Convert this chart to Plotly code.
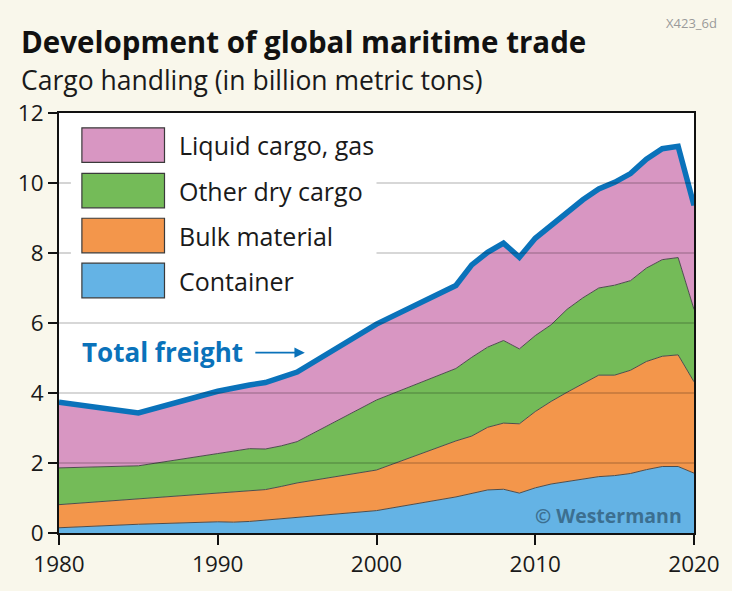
import plotly.graph_objects as go

# ---------------- data (billion metric tons) ----------------
years = [1980, 1985, 1990, 1991, 1992, 1993, 1994, 1995, 2000, 2005, 2006, 2007,
         2008, 2009, 2010, 2011, 2012, 2013, 2014, 2015, 2016, 2017, 2018, 2019, 2020]
container = [0.15, 0.25, 0.32, 0.31, 0.33, 0.37, 0.41, 0.46, 0.64, 1.03, 1.12, 1.23,
             1.25, 1.14, 1.29, 1.40, 1.47, 1.55, 1.61, 1.64, 1.70, 1.81, 1.90, 1.90, 1.71]
bulk = [0.66, 0.73, 0.82, 0.88, 0.89, 0.87, 0.92, 0.97, 1.16, 1.60, 1.65, 1.79,
        1.89, 1.98, 2.18, 2.36, 2.55, 2.72, 2.90, 2.87, 2.95, 3.09, 3.15, 3.19, 2.61]
other_dry = [1.05, 0.94, 1.13, 1.14, 1.19, 1.16, 1.16, 1.18, 2.00, 2.07, 2.25, 2.29,
             2.36, 2.14, 2.17, 2.19, 2.37, 2.45, 2.49, 2.57, 2.56, 2.67, 2.76, 2.78, 2.07]
liquid = [1.88, 1.51, 1.78, 1.82, 1.82, 1.90, 1.96, 1.99, 2.17, 2.37, 2.64, 2.71,
          2.78, 2.62, 2.78, 2.83, 2.79, 2.80, 2.83, 2.94, 3.06, 3.11, 3.17, 3.18, 2.97]
total = [c + b + o + l for c, b, o, l in zip(container, bulk, other_dry, liquid)]

series_names = ["Container", "Bulk material", "Other dry cargo", "Liquid cargo, gas"]
series_values = [container, bulk, other_dry, liquid]
series_colors = ["#64b3e5", "#f3964b", "#74bb58", "#d896c2"]

x_ticks = [1980, 1990, 2000, 2010, 2020]
y_ticks = [0, 2, 4, 6, 8, 10, 12]

# ---------------- layout geometry (pixels) ----------------
W, H = 732, 591
L, R, T, B = 59, 697, 113, 538


def px(x):
    return (x - L) / (R - L)


def py(y):
    return (B - y) / (B - T)


FONT = "Open Sans"
BLUE = "#0a72ba"

fig = go.Figure()
for name, vals, col in zip(series_names, series_values, series_colors):
    fig.add_trace(go.Scatter(
        x=years, y=vals, name=name, mode="lines", stackgroup="one",
        fillcolor=col, line=dict(color="#4d4d4d", width=1), hoverinfo="x+y+name"))

fig.add_trace(go.Scatter(
    x=years, y=total, name="Total freight", mode="lines",
    line=dict(color=BLUE, width=5.5, shape="linear"), showlegend=False))

shapes = []
# gridlines drawn above the fills
for yv in [2, 4, 6]:
    shapes.append(dict(type="line", xref="x", yref="y", x0=1980, x1=2020, y0=yv, y1=yv,
                       line=dict(color="rgba(0,0,0,0.21)", width=1.6), layer="above"))
for yv in [8, 10]:
    shapes.append(dict(type="line", xref="x", yref="y", x0=2000, x1=2020, y0=yv, y1=yv,
                       line=dict(color="rgba(0,0,0,0.21)", width=1.6), layer="above"))
    shapes.append(dict(type="line", xref="x", yref="y", x0=1980, x1=1980.75, y0=yv, y1=yv,
                       line=dict(color="rgba(0,0,0,0.21)", width=1.6), layer="above"))

# legend boxes
legend_rows = [145.5, 191.5, 237, 282.5]
legend_order = [3, 2, 1, 0]
annotations = []
for yc, idx in zip(legend_rows, legend_order):
    shapes.append(dict(type="rect", xref="paper", yref="paper",
                       x0=px(82), x1=px(165), y0=py(yc + 17.5), y1=py(yc - 17.5),
                       fillcolor=series_colors[idx], line=dict(color="#3a3a3a", width=1.2),
                       layer="above"))
    annotations.append(dict(xref="paper", yref="paper", x=px(178), y=py(yc),
                            text=series_names[idx], showarrow=False, xanchor="left",
                            yanchor="middle", font=dict(family=FONT, size=25, color="#1a1a1a")))

# Total freight label + arrow
annotations.append(dict(xref="paper", yref="paper", x=px(80), y=py(355),
                        text="<b>Total freight</b>", showarrow=False, xanchor="left",
                        yanchor="middle", font=dict(family=FONT, size=26, color=BLUE)))
annotations.append(dict(xref="paper", yref="paper", x=px(306), y=py(355.5),
                        ax=-51, ay=0, text="", showarrow=True, arrowhead=2,
                        arrowsize=1.3, arrowwidth=1.6, arrowcolor=BLUE))

# copyright
annotations.append(dict(xref="paper", yref="paper", x=px(687), y=py(520),
                        text="<b>© Westermann</b>", showarrow=False, xanchor="right",
                        yanchor="middle", font=dict(family=FONT, size=19.5, color="#3c6f90")))

# titles
annotations.append(dict(xref="paper", yref="paper", x=px(19), y=py(41),
                        text="<b>Development of global maritime trade</b>", showarrow=False,
                        xanchor="left", yanchor="middle",
                        font=dict(family=FONT, size=29.5, color="#111111")))
annotations.append(dict(xref="paper", yref="paper", x=px(19), y=py(80),
                        text="Cargo handling (in billion metric tons)", showarrow=False,
                        xanchor="left", yanchor="middle",
                        font=dict(family=FONT, size=26.5, color="#1a1a1a")))
annotations.append(dict(xref="paper", yref="paper", x=px(722), y=py(22),
                        text="X423_6d", showarrow=False,
                        xanchor="right", yanchor="middle",
                        font=dict(family=FONT, size=13, color="#9a9a9a")))

fig.update_layout(
    width=W, height=H,
    margin=dict(l=L, r=W - R, t=T, b=H - B, pad=0),
    paper_bgcolor="#f9f7eb", plot_bgcolor="#ffffff",
    showlegend=False,
    shapes=shapes, annotations=annotations,
    font=dict(family=FONT, size=22, color="#1a1a1a"),
    xaxis=dict(range=[1980, 2020], tickvals=x_ticks, ticktext=[str(v) for v in x_ticks],
               ticks="outside", ticklen=10, tickwidth=1.5, tickcolor="#111",
               showline=True, linecolor="#111", linewidth=2, mirror=True,
               showgrid=False, zeroline=False,
               tickfont=dict(family=FONT, size=22.5, color="#1a1a1a")),
    yaxis=dict(range=[0, 12], tickvals=y_ticks, ticktext=[str(v) for v in y_ticks],
               ticks="outside", ticklen=9, tickwidth=1.5, tickcolor="#111",
               showline=True, linecolor="#111", linewidth=2, mirror=True,
               showgrid=False, zeroline=False,
               tickfont=dict(family=FONT, size=22.5, color="#1a1a1a")),
)

fig.write_html(
    "out.html",
    config={"displayModeBar": False},
    post_script="document.body.style.margin='0';document.body.style.overflow='hidden';"
                "document.documentElement.style.overflow='hidden';",
)
